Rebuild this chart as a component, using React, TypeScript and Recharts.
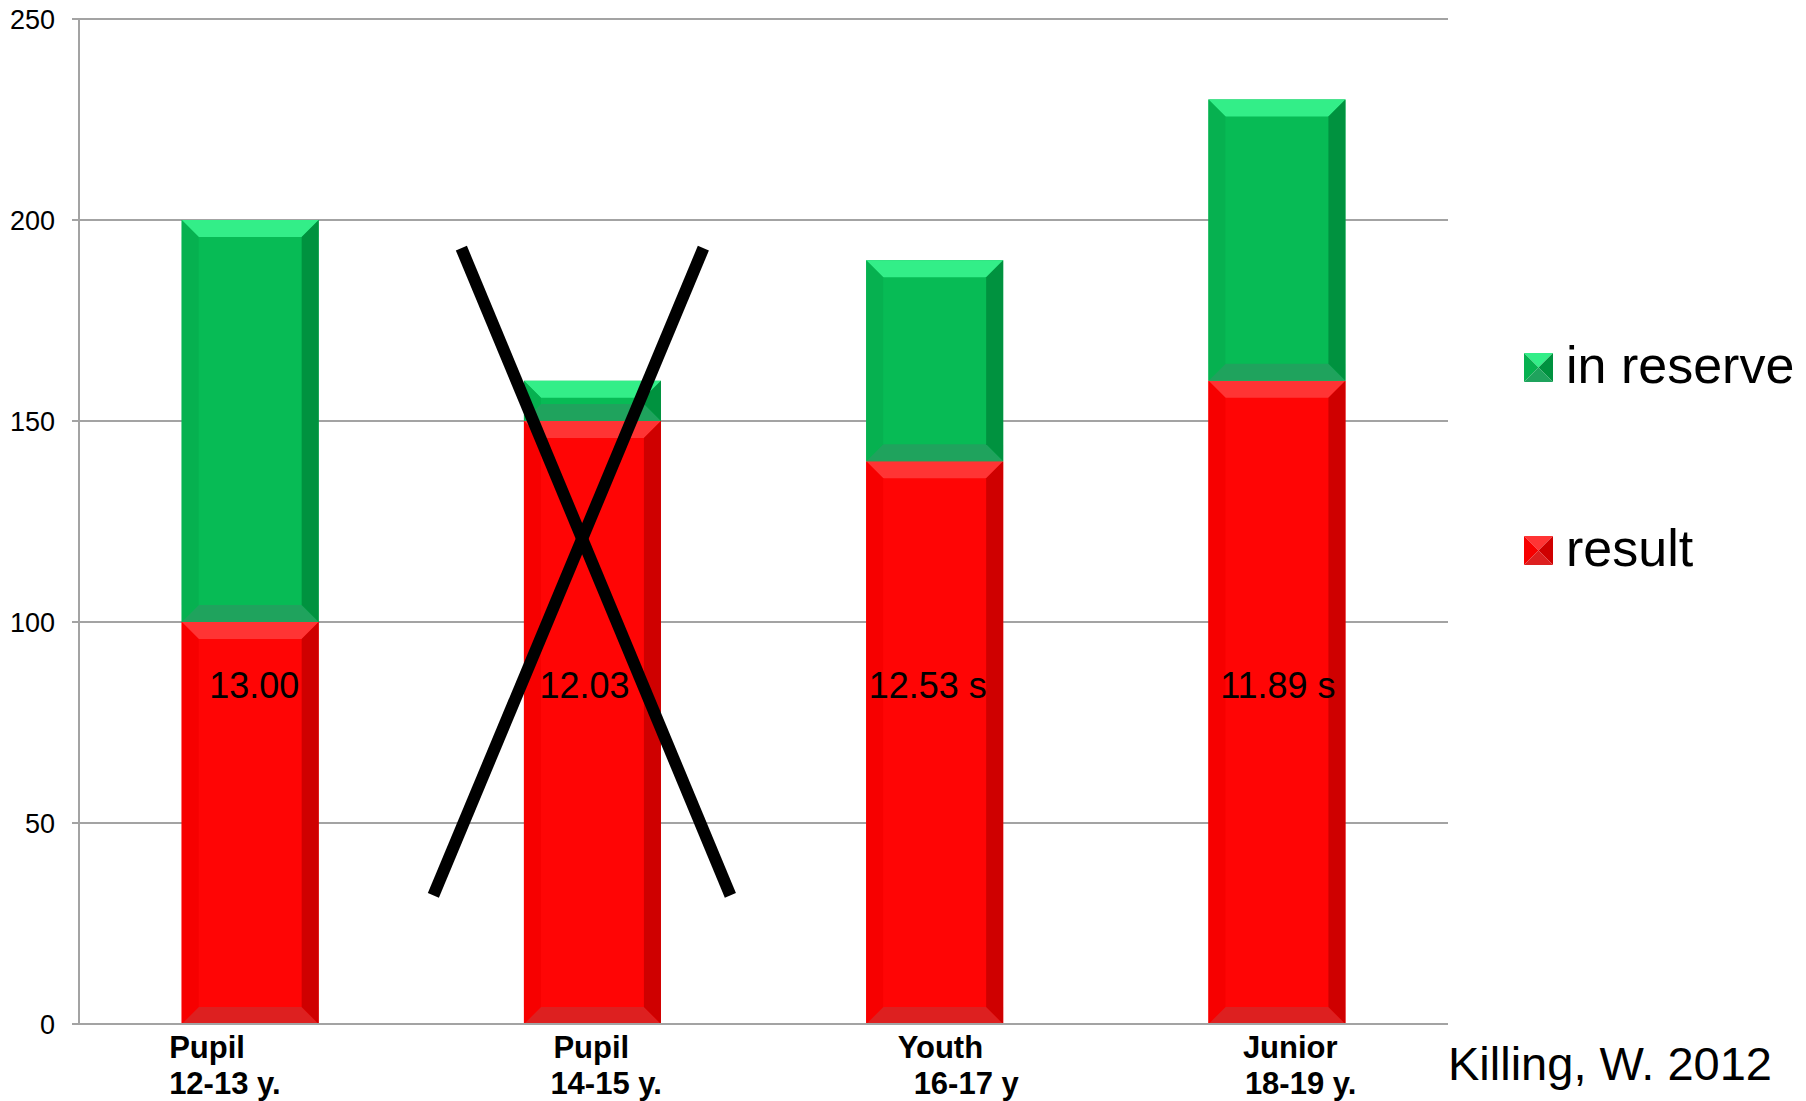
import { BarChart, Bar, CartesianGrid, XAxis, YAxis, LabelList } from "recharts";

// age groups and their series
const GROUPS = ["Pupil", "Pupil", "Youth", "Junior"];
const AGES = ["12-13 y.", "14-15 y.", "16-17 y", "18-19 y."];
const RESULT = [100, 150, 140, 160];
const IN_RESERVE = [100, 10, 50, 70];
const RUN_TIMES = ["13.00", "12.03", "12.53 s", "11.89 s"];
const Y_TICKS = [0, 50, 100, 150, 200, 250];

const data = GROUPS.map((g, i) => ({
  key: String(i),
  group: g,
  age: AGES[i],
  result: RESULT[i],
  reserve: IN_RESERVE[i],
  time: RUN_TIMES[i],
}));

// layout
const W = 1806;
const H = 1101;
const MARGIN = { top: 19, right: 358, bottom: 0, left: 0 };
const Y_AXIS_W = 79;
const X_AXIS_H = 77;
const PLOT_L = MARGIN.left + Y_AXIS_W;
const PLOT_T = MARGIN.top;
const PLOT_W = W - MARGIN.right - PLOT_L;
const PLOT_H = H - MARGIN.bottom - X_AXIS_H - PLOT_T;
const Y_MAX = 250;
const TIME_LEVEL = 81; // baseline of the time labels, in axis units

const py = (v: number) => PLOT_T + PLOT_H * (1 - v / Y_MAX);
const px = (i: number) => PLOT_L + (PLOT_W / GROUPS.length) * (i + 0.5);

const FONT = "'Liberation Sans', Arial, sans-serif";
const GRID = "#a3a3a3";

type Palette = { face: string; top: string; left: string; right: string; bottom: string };

const GREEN: Palette = {
  face: "#07bb55",
  top: "#33ee88",
  left: "#06b150",
  right: "#00923f",
  bottom: "#1fa35d",
};
const RED: Palette = {
  face: "#ff0505",
  top: "#ff3434",
  left: "#f70000",
  right: "#cf0000",
  bottom: "#dd2020",
};

const SERIES = [
  { name: "in reserve", palette: GREEN },
  { name: "result", palette: RED },
];

function BevelBar(props: any) {
  const { palette } = props;
  const x = Number(props.x);
  const y = Number(props.y);
  const w = Number(props.width);
  const h = Number(props.height);
  if (!h || h <= 0) return null;
  const b = Math.min(17, h / 2, w / 2);
  const pts = (arr: number[][]) => arr.map((p) => p.join(",")).join(" ");
  return (
    <g>
      <rect x={x} y={y} width={w} height={h} fill={palette.face} />
      <polygon points={pts([[x, y], [x + w, y], [x + w - b, y + b], [x + b, y + b]])} fill={palette.top} />
      <polygon
        points={pts([[x, y + h], [x + w, y + h], [x + w - b, y + h - b], [x + b, y + h - b]])}
        fill={palette.bottom}
      />
      <polygon points={pts([[x, y], [x + b, y + b], [x + b, y + h - b], [x, y + h]])} fill={palette.left} />
      <polygon
        points={pts([[x + w, y], [x + w - b, y + b], [x + w - b, y + h - b], [x + w, y + h]])}
        fill={palette.right}
      />
    </g>
  );
}

// per-line horizontal shift of the category labels
const TICK_SHIFT = [
  [-81, -81],
  [-39, -42],
  [-37, -21],
  [-34, -32],
];

// small horizontal nudges of the time labels inside the red bars
const TIME_SHIFT = [4, -8, -7, 1];

function CategoryTick(props: any) {
  const { x, y, index } = props;
  const d = data[index];
  if (!d) return null;
  const s = TICK_SHIFT[index] || [0, 0];
  return (
    <g fontFamily={FONT} fontWeight="bold" fontSize={31} fill="#000">
      <text x={x + s[0]} y={y + 34} textAnchor="start">
        {d.group}
      </text>
      <text x={x + s[1]} y={y + 70} textAnchor="start">
        {d.age}
      </text>
    </g>
  );
}

function TimeLabel(props: any) {
  const { x, width, value, index } = props;
  return (
    <text
      x={Number(x) + Number(width) / 2 + (TIME_SHIFT[index] || 0)}
      y={py(TIME_LEVEL)}
      textAnchor="middle"
      fontFamily={FONT}
      fontSize={36}
      fill="#000"
    >
      {value}
    </text>
  );
}

function Pyramid({ x, y, s, palette }: { x: number; y: number; s: number; palette: Palette }) {
  const cx = x + s / 2;
  const cy = y + s / 2;
  return (
    <g>
      <polygon points={`${x},${y} ${x + s},${y} ${cx},${cy}`} fill={palette.top} />
      <polygon points={`${x},${y} ${cx},${cy} ${x},${y + s}`} fill={palette.left} />
      <polygon points={`${x + s},${y} ${x + s},${y + s} ${cx},${cy}`} fill={palette.right} />
      <polygon points={`${x},${y + s} ${x + s},${y + s} ${cx},${cy}`} fill={palette.bottom} />
    </g>
  );
}

// the struck-out group: two strokes across the second column
const CROSS = [
  { a: [-131, 193], b: [138, 32] },
  { a: [111, 193], b: [-159, 32] },
];

function Overlay() {
  const c = px(1);
  return (
    <svg width={W} height={H} style={{ position: "absolute", left: 0, top: 0, pointerEvents: "none" }}>
      {CROSS.map((l, i) => (
        <line
          key={i}
          x1={c + l.a[0]}
          y1={py(l.a[1])}
          x2={c + l.b[0]}
          y2={py(l.b[1])}
          stroke="#000"
          strokeWidth={12}
        />
      ))}
      {SERIES.map((s, i) => (
        <g key={s.name}>
          <Pyramid x={1524} y={353 + i * 183} s={29} palette={s.palette} />
          <text x={1566} y={383 + i * 183} fontFamily={FONT} fontSize={52} fill="#000">
            {s.name}
          </text>
        </g>
      ))}
      <text x={1448} y={1080} fontFamily={FONT} fontSize={47} fill="#000">
        Killing, W. 2012
      </text>
    </svg>
  );
}

export default function App() {
  return (
    <div style={{ position: "absolute", left: 0, top: 0, width: W, height: H, background: "#fff" }}>
      <BarChart width={W} height={H} data={data} margin={MARGIN} barCategoryGap="30%">
        <CartesianGrid vertical={false} stroke={GRID} strokeWidth={2} />
        <XAxis
          dataKey="key"
          height={X_AXIS_H}
          axisLine={{ stroke: GRID, strokeWidth: 2 }}
          tickLine={false}
          tickSize={0}
          tickMargin={0}
          interval={0}
          tick={<CategoryTick />}
        />
        <YAxis
          width={Y_AXIS_W}
          domain={[0, Y_MAX]}
          ticks={Y_TICKS}
          axisLine={{ stroke: GRID, strokeWidth: 2 }}
          tickLine={{ stroke: GRID, strokeWidth: 2 }}
          tickSize={7}
          tickMargin={17}
          tick={{ fontFamily: FONT, fontSize: 27, fill: "#000" }}
        />
        <Bar
          dataKey="result"
          name="result"
          stackId="s"
          isAnimationActive={false}
          shape={(p: any) => <BevelBar {...p} palette={RED} />}
        >
          <LabelList dataKey="time" content={<TimeLabel />} />
        </Bar>
        <Bar
          dataKey="reserve"
          name="in reserve"
          stackId="s"
          isAnimationActive={false}
          shape={(p: any) => <BevelBar {...p} palette={GREEN} />}
        />
      </BarChart>
      <Overlay />
    </div>
  );
}
